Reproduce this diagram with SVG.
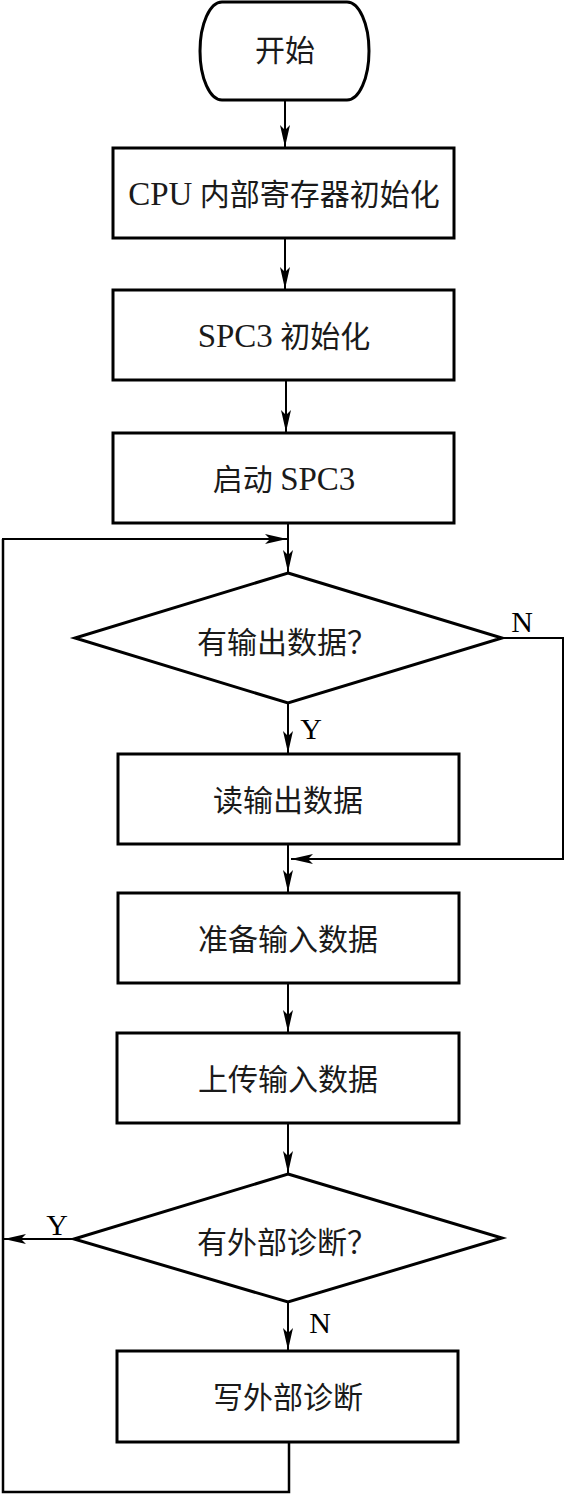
<svg xmlns="http://www.w3.org/2000/svg" width="565" height="1494" viewBox="0 0 565 1494">
<style>
.node{fill:#fff;stroke:#000;stroke-width:3}
.t{font-family:"Liberation Serif","Noto Sans CJK SC",serif;font-size:30px;fill:#1a1a1a;text-anchor:middle}
.la{font-size:33px}
.lb{font-family:"Liberation Serif",serif;font-size:30px;fill:#000;text-anchor:middle}
.c{fill:none;stroke:#000;stroke-width:2}
</style>
<defs>
<marker id="ah" markerUnits="userSpaceOnUse" markerWidth="22" markerHeight="10" viewBox="0 0 22 10" refX="22" refY="5" orient="auto">
<path d="M0,0 L22,5 L0,10 L5,5 Z" fill="#000"/>
</marker>
</defs>
<g id="connectors">
<line class="c" x1="285" y1="100" x2="285" y2="147" marker-end="url(#ah)"/>
<line class="c" x1="285" y1="239" x2="285" y2="289" marker-end="url(#ah)"/>
<line class="c" x1="286" y1="381" x2="286" y2="432" marker-end="url(#ah)"/>
<line class="c" x1="288" y1="524" x2="288" y2="572" marker-end="url(#ah)"/>
<polyline class="c" style="stroke-width:2.5" points="289,1443 289,1492 3,1492 3,539"/>
<line class="c" x1="2" y1="539" x2="287" y2="539" marker-end="url(#ah)"/>
<line class="c" x1="288" y1="703" x2="288" y2="753" marker-end="url(#ah)"/>
<polyline class="c" points="502,638 563,638 563,859 291,859" marker-end="url(#ah)"/>
<line class="c" x1="288" y1="845" x2="288" y2="892" marker-end="url(#ah)"/>
<line class="c" x1="288" y1="984" x2="288" y2="1032" marker-end="url(#ah)"/>
<line class="c" x1="288" y1="1124" x2="288" y2="1173" marker-end="url(#ah)"/>
<line class="c" x1="74" y1="1239" x2="4" y2="1239" marker-end="url(#ah)"/>
<line class="c" x1="288" y1="1302" x2="288" y2="1350" marker-end="url(#ah)"/>
</g>
<g id="start">
<path class="node" d="M222,2 H347 A22,49 0 0 1 347,100 H222 A22,49 0 0 1 222,2 Z"/>
<text class="t" x="285" y="61">开始</text>
</g>
<g id="cpu-init">
<rect class="node" x="113" y="148" width="341" height="90"/>
<text class="t" x="284" y="205"><tspan class="la">CPU</tspan> 内部寄存器初始化</text>
</g>
<g id="spc3-init">
<rect class="node" x="113" y="290" width="341" height="90"/>
<text class="t" x="284" y="347"><tspan class="la">SPC3</tspan> 初始化</text>
</g>
<g id="start-spc3">
<rect class="node" x="113" y="433" width="341" height="90"/>
<text class="t" x="284" y="490">启动 <tspan class="la">SPC3</tspan></text>
</g>
<g id="has-output">
<polygon class="node" points="288,573 502,638 288,703 75,638"/>
<text class="t" x="287" y="653">有输出数据？</text>
<text class="lb" x="522" y="632">N</text>
<text class="lb" x="311" y="739">Y</text>
</g>
<g id="read-output">
<rect class="node" x="118" y="754" width="341" height="90"/>
<text class="t" x="288" y="811">读输出数据</text>
</g>
<g id="prep-input">
<rect class="node" x="118" y="893" width="341" height="90"/>
<text class="t" x="288" y="950">准备输入数据</text>
</g>
<g id="upload-input">
<rect class="node" x="117" y="1033" width="342" height="90"/>
<text class="t" x="288" y="1090">上传输入数据</text>
</g>
<g id="has-diag">
<polygon class="node" points="288,1174 502,1238 288,1302 74,1239"/>
<text class="t" x="287" y="1253">有外部诊断？</text>
<text class="lb" x="57" y="1235">Y</text>
<text class="lb" x="320" y="1333">N</text>
</g>
<g id="write-diag">
<rect class="node" x="117" y="1351" width="341" height="91"/>
<text class="t" x="288" y="1408">写外部诊断</text>
</g>
</svg>
